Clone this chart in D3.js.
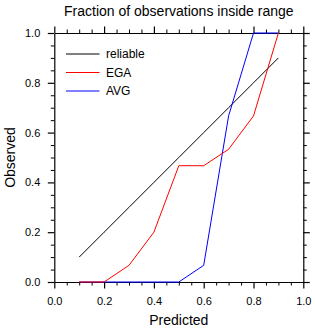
<!DOCTYPE html>
<html>
<head>
<meta charset="utf-8">
<script src="https://cdn.jsdelivr.net/npm/d3@7"></script>
<style>
  body { margin: 0; background: #fff; }
  svg { display: block; font-family: "Liberation Sans", Arial, Helvetica, sans-serif; }
</style>
</head>
<body>
<div id="chart"></div>
<script>
const predicted = [0.1, 0.2, 0.3, 0.4, 0.5, 0.6, 0.7, 0.8, 0.9];
const reliable = [0.1, 0.2, 0.3, 0.4, 0.5, 0.6, 0.7, 0.8, 0.9];
const ega = [0, 0, 0.067, 0.2, 0.467, 0.467, 0.533, 0.667, 1.0];
const avg = [0, 0, 0, 0, 0, 0.067, 0.667, 1.0, 1.0];
const seriesNames = ["reliable", "EGA", "AVG"];
const seriesColors = ["#000000", "#ff0000", "#0000ff"];
const majorTicks = [0, 0.2, 0.4, 0.6, 0.8, 1.0];
const minorTicks = d3.range(0, 1.0001, 0.05).map(v => +v.toFixed(2)).filter(v => Math.round(v * 100) % 20 !== 0);

(function () {
const W = 315, H = 330;
const mLeft = 54.3, mRight = 303.3, mTop = 33, mBottom = 282;

const svg = d3.select("#chart").append("svg").attr("width", W).attr("height", H);

const x = d3.scaleLinear().domain([0, 1]).range([mLeft, mRight]);
const y = d3.scaleLinear().domain([0, 1]).range([mBottom, mTop]);
const fmt = d3.format(".1f");

function minor(axisFn, tr) {
  const g = svg.append("g").attr("transform", tr)
    .call(axisFn.tickValues(minorTicks).tickSize(3.5).tickSizeOuter(0).tickFormat(""));
  g.select(".domain").remove();
  g.selectAll("line").attr("stroke", "#000").attr("stroke-width", 1);
}
minor(d3.axisBottom(x), `translate(0,${mBottom})`);
minor(d3.axisTop(x), `translate(0,${mTop})`);
minor(d3.axisLeft(y), `translate(${mLeft},0)`);
minor(d3.axisRight(y), `translate(${mRight},0)`);

function major(axisFn, tr, labels, pad) {
  const g = svg.append("g").attr("transform", tr)
    .call(axisFn.tickValues(majorTicks).tickSize(6.5).tickSizeOuter(0).tickPadding(pad)
      .tickFormat(labels ? fmt : ""));
  g.select(".domain").attr("stroke", "#000").attr("stroke-width", 1.2);
  g.selectAll("line").attr("stroke", "#000").attr("stroke-width", 1.2);
  g.selectAll("text").attr("font-size", 11).attr("fill", "#000")
    .attr("font-family", "Liberation Sans, Arial, sans-serif");
  return g;
}
major(d3.axisBottom(x), `translate(0,${mBottom})`, true, 8.5);
major(d3.axisTop(x), `translate(0,${mTop})`, false, 3);
major(d3.axisLeft(y), `translate(${mLeft},0)`, true, 7.5);
major(d3.axisRight(y), `translate(${mRight},0)`, false, 3);

const line = d3.line().x(d => x(d[0])).y(d => y(d[1]));
const allSeries = [reliable, ega, avg];
const drawOrder = [0, 2, 1];
drawOrder.forEach(i => {
  svg.append("path")
    .datum(predicted.map((p, j) => [p, allSeries[i][j]]))
    .attr("d", line)
    .attr("fill", "none")
    .attr("stroke", seriesColors[i])
    .attr("stroke-width", 1);
});

const legendY = [54, 72.5, 91];
seriesNames.forEach((n, i) => {
  svg.append("line").attr("x1", 66).attr("x2", 99.5)
    .attr("y1", legendY[i]).attr("y2", legendY[i])
    .attr("stroke", seriesColors[i]).attr("stroke-width", 1);
  svg.append("text").attr("x", 106).attr("y", legendY[i]).attr("dy", "0.35em")
    .attr("font-size", 12).attr("fill", "#000").text(n);
});

svg.append("text").attr("x", (mLeft + mRight) / 2).attr("y", 15.7)
  .attr("text-anchor", "middle").attr("font-size", 14).text("Fraction of observations inside range");
svg.append("text").attr("x", (mLeft + mRight) / 2).attr("y", 325)
  .attr("text-anchor", "middle").attr("font-size", 14).text("Predicted");
svg.append("text").attr("transform", `translate(15,${(mTop + mBottom) / 2}) rotate(-90)`)
  .attr("text-anchor", "middle").attr("font-size", 14).text("Observed");
})();
</script>
</body>
</html>
